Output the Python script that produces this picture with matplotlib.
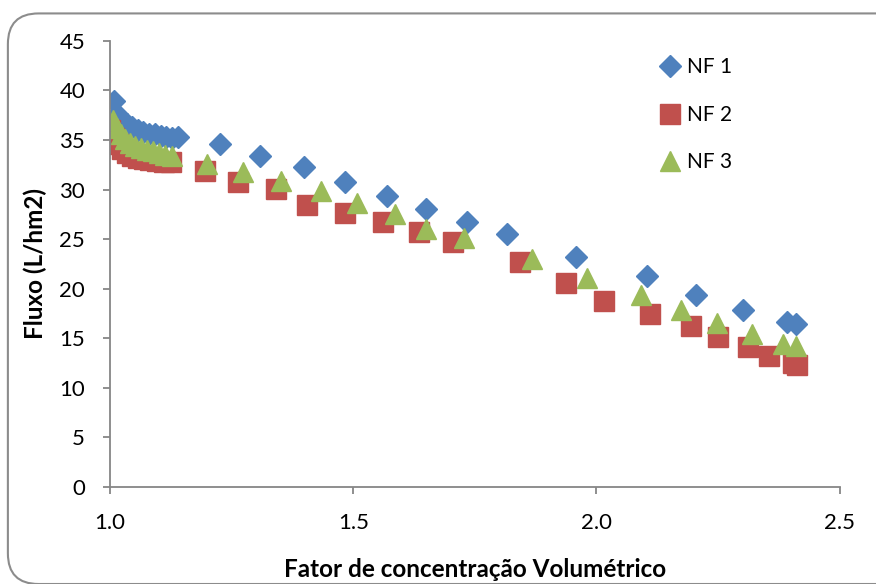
import matplotlib.pyplot as plt
from matplotlib.patches import FancyBboxPatch

plt.rcParams['font.family'] = ['Lato', 'DejaVu Sans']

# Fator de concentracao volumetrico (FCV) e fluxo de permeado para cada ensaio
fcv_nf1 = [1.008, 1.015, 1.025, 1.035, 1.045, 1.057, 1.068, 1.080, 1.092, 1.104,
           1.116, 1.128, 1.140, 1.226, 1.308, 1.398, 1.482, 1.570, 1.650, 1.733,
           1.815, 1.958, 2.104, 2.204, 2.302, 2.392, 2.411]
fluxo_nf1 = [38.9, 37.6, 37.0, 36.6, 36.3, 36.0, 35.8, 35.6, 35.6, 35.4,
             35.3, 35.2, 35.3, 34.6, 33.4, 32.3, 30.8, 29.4, 28.0, 26.7,
             25.5, 23.2, 21.3, 19.4, 17.9, 16.6, 16.4]

fcv_nf2 = [1.000, 1.008, 1.016, 1.025, 1.035, 1.046, 1.058, 1.070, 1.083, 1.097,
           1.111, 1.125, 1.195, 1.264, 1.341, 1.404, 1.483, 1.561, 1.635, 1.706,
           1.843, 1.938, 2.016, 2.111, 2.195, 2.250, 2.312, 2.355, 2.403, 2.413]
fluxo_nf2 = [36.0, 35.2, 34.6, 34.1, 33.7, 33.4, 33.2, 33.1, 33.0, 32.9,
             32.8, 32.8, 31.9, 30.8, 30.1, 28.4, 27.6, 26.7, 25.7, 24.7,
             22.7, 20.6, 18.8, 17.5, 16.2, 15.1, 14.1, 13.2, 12.5, 12.3]

fcv_nf3 = [1.006, 1.014, 1.022, 1.031, 1.041, 1.052, 1.063, 1.075, 1.088, 1.101,
           1.114, 1.127, 1.199, 1.274, 1.352, 1.434, 1.508, 1.585, 1.650, 1.728,
           1.868, 1.981, 2.091, 2.174, 2.248, 2.319, 2.383, 2.411]
fluxo_nf3 = [37.0, 36.2, 35.6, 35.1, 34.7, 34.4, 34.2, 34.0, 33.9, 33.7,
             33.5, 33.4, 32.6, 31.8, 30.9, 29.9, 28.6, 27.5, 26.0, 25.1,
             23.0, 21.1, 19.4, 17.9, 16.5, 15.4, 14.4, 14.2]

x_ticks = [1.0, 1.5, 2.0, 2.5]
y_ticks = [0, 5, 10, 15, 20, 25, 30, 35, 40, 45]

fig = plt.figure(figsize=(8.76, 5.84), dpi=100)

# moldura arredondada da area do grafico
borda = FancyBboxPatch((0.009, 0.0), 1.05, 0.977, boxstyle="round,pad=0,rounding_size=0.035",
                       transform=fig.transFigure, fill=False, edgecolor='#8c8c8c',
                       linewidth=1.5, mutation_aspect=1.5)
fig.patches.append(borda)

ax = fig.add_axes([0.1256, 0.166, 0.833, 0.764])

ax.plot(fcv_nf1, fluxo_nf1, 'D', color='#4F81BD', markersize=11.5, linestyle='none', label='NF 1')
ax.plot(fcv_nf2, fluxo_nf2, 's', color='#C0504D', markersize=14, linestyle='none', label='NF 2')
ax.plot(fcv_nf3, fluxo_nf3, '^', color='#9BBB59', markersize=14.5, linestyle='none', label='NF 3')

ax.set_xlim(1.0, 2.5)
ax.set_ylim(0, 45)
ax.set_xticks(x_ticks)
ax.set_xticklabels(['%.1f' % v for v in x_ticks])
ax.set_yticks(y_ticks)

for s in ['top', 'right']:
    ax.spines[s].set_visible(False)
for s in ['left', 'bottom']:
    ax.spines[s].set_color('#868686')
    ax.spines[s].set_linewidth(1.3)
ax.tick_params(axis='both', colors='#868686', labelcolor='black', labelsize=16,
               length=5, width=1.3, direction='out')
ax.tick_params(axis='x', pad=14)
ax.tick_params(axis='y', pad=13)

ax.set_xlabel('Fator de concentração Volumétrico', fontsize=17.5, fontweight='bold', labelpad=18)
ax.set_ylabel('Fluxo (L/hm2)', fontsize=17.5, fontweight='bold', labelpad=9)

ax.legend(loc='upper right', bbox_to_anchor=(0.878, 1.005), frameon=False, fontsize=15,
          labelspacing=1.32, handlelength=1.0, handletextpad=0.3, numpoints=1)

fig.savefig('out.png', dpi=100)
